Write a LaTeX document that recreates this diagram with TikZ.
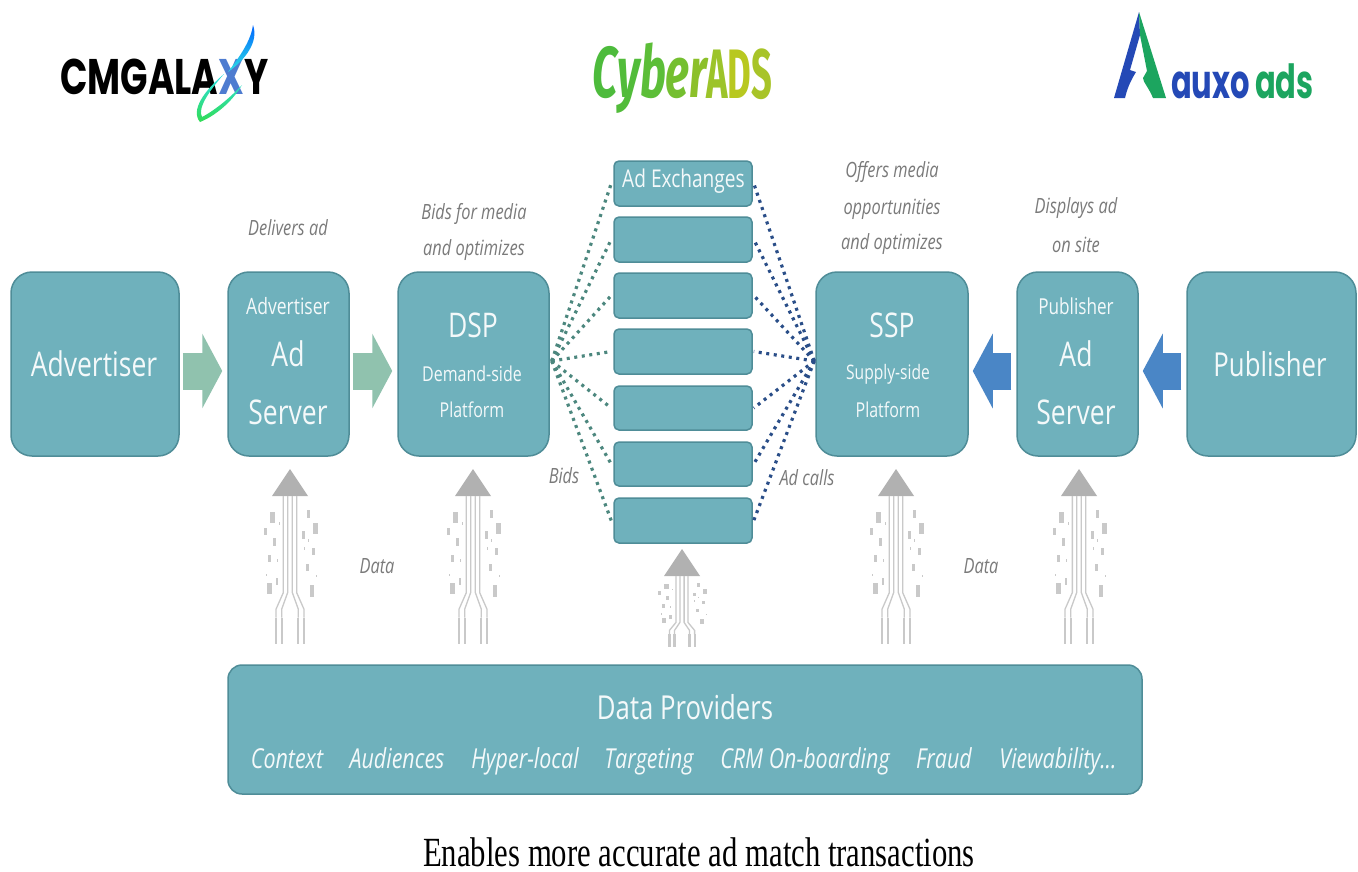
\documentclass[tikz,border=0pt]{standalone}
\usepackage{fontspec}
\usetikzlibrary{arrows.meta,calc}
\newfontfamily\bodyf[FakeStretch=0.78]{Open Sans}
\newfontfamily\logof[FakeStretch=0.72]{Poppins}
\newfontfamily\logoa[FakeStretch=0.65]{Poppins}
\newfontfamily\logoc[FakeStretch=0.62]{Fira Sans}
\newfontfamily\logod[FakeStretch=0.52]{Fira Sans}
\newfontfamily\capf[FakeStretch=0.74]{Liberation Serif}
\definecolor{teal}{HTML}{6FB1BC}
\definecolor{tealb}{HTML}{4F8D98}
\definecolor{notegray}{HTML}{7A7A7A}
\definecolor{glyph}{HTML}{C9C9C9}
\definecolor{arrowgreen}{HTML}{90C2AE}
\definecolor{arrowblue}{HTML}{4A86C6}
\definecolor{dotl}{HTML}{4C877E}
\definecolor{dotr}{HTML}{2A4E88}
\definecolor{auxob}{HTML}{2449B6}
\definecolor{auxog}{HTML}{1CA55F}
\newcommand{\fsz}[1]{\fontsize{#1}{#1}\selectfont}
\tikzset{
 panel/.style={draw=tealb,line width=1.5pt,fill=teal,rounded corners=21pt,inner sep=0pt},
 exbox/.style={draw=tealb,line width=1.5pt,fill=teal,rounded corners=5pt,inner sep=0pt},
 lab/.style={text=white!92!teal,font=\bodyf\fsz{#1},inner sep=0pt,anchor=center},
 note/.style={text=notegray,font=\bodyf\itshape\fsz{21},inner sep=0pt,anchor=center},
 rowtxt/.style={text=white!92!teal,font=\bodyf\itshape\fsz{27.5},inner sep=0pt,anchor=base},
 blockg/.style={draw=arrowgreen,line width=37pt,-{Triangle[length=20pt,width=74pt,color=arrowgreen]}},
 blockb/.style={draw=arrowblue,line width=37pt,-{Triangle[length=20pt,width=74pt,color=arrowblue]}},
 dotL/.style={draw=dotl,line width=3.2pt,dash pattern=on 3pt off 4.6pt},
 dotR/.style={draw=dotr,line width=3.2pt,dash pattern=on 3pt off 4.6pt},
}
% cx, top, x unit, y unit
\newcommand{\datafig}[4]{%
 \fill[glyph!88!black] (#1,#2) -- (#1+18,#2+27) -- (#1-18,#2+27) -- cycle;
 \begin{scope}[shift={(#1,#2+27)},x=#3pt,y=-#4pt]
  \foreach \sx in {1,-1}{
   \draw[glyph,line width=1.3pt] (\sx*20,0) -- (\sx*20,290) -- (\sx*42,340) -- (\sx*42,365);
   \draw[glyph,line width=1.3pt] (\sx*7,0) -- (\sx*7,290) -- (\sx*25,340) -- (\sx*25,365);
   \draw[glyph,line width=2.2pt] (\sx*42,365) -- (\sx*42,445);
   \draw[glyph,line width=2.2pt] (\sx*25,365) -- (\sx*25,445);
  }
  \foreach \px/\py/\w/\h in {-52/65/14/32,-74/107/10/22,-47/138/10/22,-61/187/9/22,-39/257/8/22,-61/277/14/34,56/55/10/24,76/98/14/32,40/117/10/22,70/166/10/22,52/215/10/22,66/285/14/34,-32/83/3/8,55/133/3/8,43/157/3/8,-37/193/3/8,-70/237/3/8,80/240/3/8}
   \fill[glyph] (\px-\w/2,\py-\h/2) rectangle (\px+\w/2,\py+\h/2);
 \end{scope}}
\begin{document}
\begin{tikzpicture}[x=1pt,y=-1pt]
\useasboundingbox (0,0) rectangle (1358,871);
\fill[white] (0,0) rectangle (1358,871);

% ---- main boxes
\node[panel,minimum width=168pt,minimum height=184pt] (adv) at (95,364) {};
\node[panel,minimum width=121pt,minimum height=184pt] (advsrv) at (288.5,364) {};
\node[panel,minimum width=151pt,minimum height=184pt] (dsp) at (473.5,364) {};
\node[panel,minimum width=152pt,minimum height=184pt] (ssp) at (892,364) {};
\node[panel,minimum width=121pt,minimum height=184pt] (pubsrv) at (1077.5,364) {};
\node[panel,minimum width=169pt,minimum height=184pt] (pub) at (1271.5,364) {};
\node[panel,rounded corners=14pt,minimum width=914pt,minimum height=129pt] (prov) at (685,729.5) {};

% ---- exchanges
\foreach \n/\yy/\h in {1/183.5/45,2/239.5/45,3/295.5/45,4/351.5/45,5/408/44,6/464/44,7/520.5/45}
  \node[exbox,minimum width=138pt,minimum height=\h pt] (ex\n) at (683,\yy) {};

% ---- dotted links
\coordinate (hubL) at ($(dsp.east)+(2,-3)$);
\coordinate (hubR) at ($(ssp.west)+(-1,-3)$);
\foreach \n in {1,2,3,4,5,6,7}{
  \draw[dotL] (hubL) -- ($(ex\n.west)+(-2,0)$);
  \draw[dotR] (hubR) -- ($(ex\n.east)+(1,0)$);
}

% ---- block arrows
\draw[blockg] ($(adv.east)+(3,7)$) -- ($(advsrv.west)+(-5,7)$);
\draw[blockg] ($(advsrv.east)+(3,7)$) -- ($(dsp.west)+(-5,7)$);
\draw[blockb] ($(pubsrv.west)+(-5,7)$) -- ($(ssp.east)+(4,7)$);
\draw[blockb] ($(pub.west)+(-5,7)$) -- ($(pubsrv.east)+(4,7)$);

% ---- box labels
\node[lab=34] (t1) at (94,364) {Advertiser};
\node[lab=22.5] (t2) at (288,306) {Advertiser};
\node[lab=34] (t3) at (288,354) {Ad};
\node[lab=34] (t4) at (288,412) {Server};
\node[lab=34] (t5) at (473,325) {DSP};
\node[lab=20.5] (t6) at (472,374) {Demand-side};
\node[lab=20.5] (t7) at (472,410) {Platform};
\node[lab=34] (t8) at (892,325) {SSP};
\node[lab=20] (t9) at (888,374) {Supply-side};
\node[lab=20.5] (t10) at (888,410) {Platform};
\node[lab=22] (t11) at (1076,306) {Publisher};
\node[lab=34] (t12) at (1076,354) {Ad};
\node[lab=34] (t13) at (1076,412) {Server};
\node[lab=33] (t14) at (1270,364) {Publisher};
\node[lab=24.5] (t15) at (683.5,181) {Ad Exchanges};
\node[lab=33] (t16) at (685,707) {Data Providers};
\node[rowtxt] (rowa) at (287,768) {Context};
\node[rowtxt] (rowb) at (397,768) {Audiences};
\node[rowtxt] (rowc) at (525,768) {Hyper-local};
\node[rowtxt] (rowd) at (649,768) {Targeting};
\node[rowtxt] (rowe) at (805,768) {CRM On-boarding};
\node[rowtxt] (rowf) at (944,768) {Fraud};
\node[rowtxt] (rowg) at (1058,768) {Viewability...};

% ---- notes
\node[note] (n1) at (288,228) {Delivers ad};
\node[note] (n2) at (474,214) {Bids for media};
\node[note] (n3) at (474,250) {and optimizes};
\node[note] (n4) at (892,172) {Offers media};
\node[note] (n5) at (892,209) {opportunities};
\node[note] (n6) at (892,244) {and  optimizes};
\node[note] (n7) at (1076,208) {Displays ad};
\node[note] (n8) at (1076,245) {on site};
\node[note] (n9) at (564,476) {Bids};
\node[note] (n10) at (807,478) {Ad calls};
\node[note] (n11) at (377,566) {Data};
\node[note] (n12) at (981,566) {Data};

% ---- data glyphs
\datafig{290}{469}{0.333}{0.333}
\datafig{473}{469}{0.333}{0.333}
\datafig{896}{469}{0.333}{0.333}
\datafig{1079}{469}{0.333}{0.333}
\datafig{682}{549}{0.3}{0.16}

% ---- caption
\node[inner sep=0pt,anchor=base,text=black,font=\capf\fsz{41.5}] (cap) at (699,866) {Enables more accurate ad match transactions};

% ---- logo: CM Galaxy
\node[inner sep=0pt,anchor=base west,text=black,font=\logof\bfseries\fsz{50}] (cmg) at (60,94) {CMGALA\textcolor{teal!70!blue}{X}Y};
\path[top color=blue!60!cyan,bottom color=cyan!60!teal] (253,25) .. controls (259,42) and (245,60) .. (228,72) .. controls (241,55) and (251,40) .. (253,25) -- cycle;
\path[top color=cyan!60!teal,bottom color=green!55!teal] (224,74) .. controls (205,90) and (190,110) .. (200,122) .. controls (215,116) and (232,102) .. (242,85) .. controls (228,100) and (212,112) .. (202,117) .. controls (197,108) and (210,90) .. (224,74) -- cycle;

% ---- logo: CyberADS
\node[inner sep=0pt,anchor=base west,font=\logoc\bfseries\itshape\fsz{72}] (cyb) at (592,97) {\textcolor[HTML]{4DBB3C}{C}\textcolor[HTML]{52BC3A}{y}\textcolor[HTML]{5CBE38}{b}\textcolor[HTML]{74BF30}{e}\textcolor[HTML]{8CC02A}{r}};
\node[inner sep=0pt,anchor=base west,font=\logod\bfseries\fsz{70}] (cyads) at (706,98) {\textcolor[HTML]{9CC42A}{A}\textcolor[HTML]{B8C820}{D}\textcolor[HTML]{A8C428}{S}};

% ---- logo: auxo ads
\fill[auxob] (1139,12) -- (1114,98) -- (1125,98) .. controls (1128,85) and (1133,77) .. (1136,72) -- (1130,70) -- (1140,35) -- cycle;
\fill[auxog] (1139,12) -- (1166,98) -- (1153,98) .. controls (1149,88) and (1143,82) .. (1143,78) -- (1147,71) -- (1140,35) -- cycle;
\node[inner sep=0pt,anchor=base west,text=auxob,font=\logoa\bfseries\fsz{47}] (auxo) at (1171,98) {auxo};
\node[inner sep=0pt,anchor=base west,text=auxog,font=\logoa\bfseries\fsz{47}] (ads) at (1255,98) {ads};
\end{tikzpicture}
\end{document}
